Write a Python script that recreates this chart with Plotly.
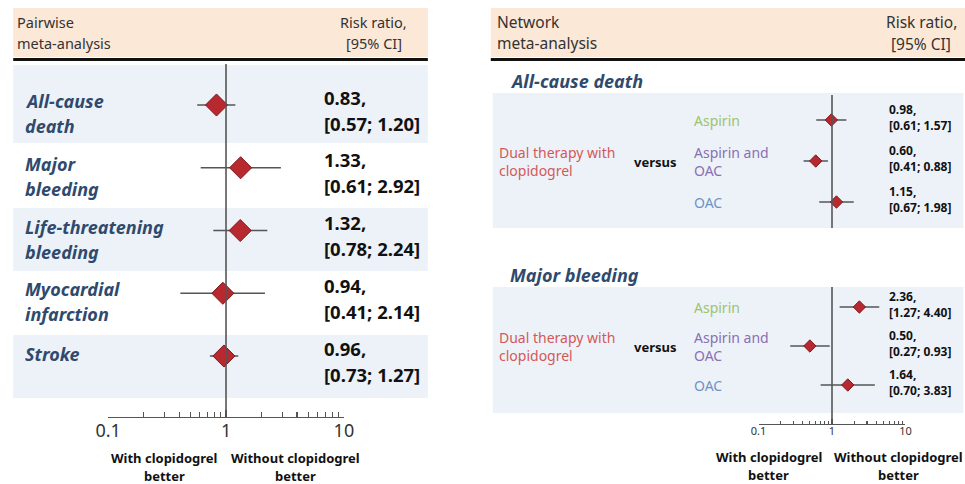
import plotly.graph_objects as go

W, H = 965, 484
# the rendered page shows up slightly squeezed horizontally; positions are pre-stretched about this point
XC, XS = 513.0, 0.977

# ---------------- data ----------------
pair_outcomes = ["All-cause<br>death", "Major<br>bleeding", "Life-threatening<br>bleeding",
                 "Myocardial<br>infarction", "Stroke"]
pair_rr = [0.83, 1.33, 1.32, 0.94, 0.96]
pair_lo = [0.57, 0.61, 0.78, 0.41, 0.73]
pair_hi = [1.20, 2.92, 2.24, 2.14, 1.27]

net_sections = ["All-cause death", "Major bleeding"]
net_reference = "Dual therapy with<br>clopidogrel"
net_comparators = ["Aspirin", "Aspirin and<br>OAC", "OAC"]
net_death_rr = [0.98, 0.60, 1.15]
net_death_lo = [0.61, 0.41, 0.67]
net_death_hi = [1.57, 0.88, 1.98]
net_bleed_rr = [2.36, 0.50, 1.64]
net_bleed_lo = [1.27, 0.27, 0.70]
net_bleed_hi = [4.40, 0.93, 3.83]

major_ticks = [0.1, 1, 10]
major_labels = ["0.1", "1", "10"]
minor_ticks = [0.2, 0.3, 0.4, 0.5, 0.6, 0.7, 0.8, 0.9, 2, 3, 4, 5, 6, 7, 8, 9]
favour_left = "With clopidogrel<br>better"
favour_right = "Without clopidogrel<br>better"

# ---------------- styles ----------------
FONT = "Noto Sans"
NAVY = "#2f4a6d"
PEACH = "#fce8d7"
BAND = "#edf2f9"
LINEC = "#555555"
DIAMOND = "#b8282f"
DIAMOND_EDGE = "#7d1a1f"
REF_RED = "#d45858"
COMP_COLORS = ["#9dc46b", "#8a6fb3", "#6f92c6"]


def fx(p):
    return (XC + (p - XC) / XS) / W


def fy(p):
    return 1 - p / H


fig = go.Figure()
annotations = []
shapes = []


def text(xp, yp, s, size, color="#222", xanchor="left", weight="normal", style="normal"):
    annotations.append(dict(x=fx(xp), y=fy(yp), xref="paper", yref="paper", text=s,
                            showarrow=False, xanchor=xanchor, yanchor="middle", borderpad=0,
                            font=dict(family=FONT, size=size, color=color, weight=weight, style=style)))


def rowtext(xp, yref, idx, shift, s, size, color="#222", xanchor="left", weight="normal",
            style="normal", align="left"):
    annotations.append(dict(x=fx(xp), y=idx, xref="paper", yref=yref, yshift=-shift, text=s,
                            showarrow=False, xanchor=xanchor, yanchor="middle", borderpad=0,
                            align=align,
                            font=dict(family=FONT, size=size, color=color, weight=weight, style=style)))


def multiline(xp, yref, idx, s, first, step, size, **kw):
    lines = s.split("<br>")
    for k, ln in enumerate(lines):
        rowtext(xp, yref, idx, first + k * step, ln, size, **kw)


def rect(x0, y0, x1, y1, color):
    shapes.append(dict(type="rect", xref="paper", yref="paper", x0=fx(x0), x1=fx(x1),
                       y0=fy(y0), y1=fy(y1), fillcolor=color, line=dict(width=0), layer="below"))


def hline(x0, x1, y, width, color="#111"):
    shapes.append(dict(type="line", xref="paper", yref="paper", x0=fx(x0), x1=fx(x1),
                       y0=fy(y), y1=fy(y), line=dict(color=color, width=width)))


def null_line(xref, y0, y1):
    shapes.append(dict(type="line", xref=xref, yref="paper", x0=1, x1=1, y0=fy(y0), y1=fy(y1),
                       line=dict(color=LINEC, width=1.6), layer="above"))


def add_forest(rr, lo, hi, xa, ya, msize, lw):
    xs, ys = [], []
    for i in range(len(rr)):
        xs += [lo[i], hi[i], None]
        ys += [i, i, None]
    fig.add_trace(go.Scatter(x=xs, y=ys, mode="lines", xaxis=xa, yaxis=ya,
                             line=dict(color=LINEC, width=lw), hoverinfo="skip", showlegend=False))
    fig.add_trace(go.Scatter(x=rr, y=list(range(len(rr))), mode="markers", xaxis=xa, yaxis=ya,
                             marker=dict(symbol="diamond", size=msize, color=DIAMOND,
                                         line=dict(color=DIAMOND_EDGE, width=1)),
                             showlegend=False))


def fmt(r, l, h):
    return f"{r:.2f},<br>[{l:.2f}; {h:.2f}]"


# ---------------- left panel: pairwise ----------------
rect(12, 8, 427, 57, PEACH)
hline(12, 427, 59.5, 3)
for y0, y1 in [(65, 143), (208, 271), (335, 398)]:
    rect(12, y0, 427, y1, BAND)
null_line("x", 64, 417)
add_forest(pair_rr, pair_lo, pair_hi, "x", "y", 17, 1.6)

text(15, 22, "Pairwise", 14.5, color="#333")
text(15, 43, "meta-analysis", 14.5, color="#333")
text(373, 22, "Risk ratio,", 14.5, color="#333", xanchor="center")
text(373, 43, "[95% CI]", 14.5, color="#333", xanchor="center")

for i, name in enumerate(pair_outcomes):
    nl = len(name.split("<br>"))
    multiline(23, "y", i, name, -4 if nl > 1 else -2, 25, 18, color=NAVY, weight="bold", style="italic")
    multiline(322, "y", i, fmt(pair_rr[i], pair_lo[i], pair_hi[i]), -8, 26, 18.5, color="#111",
              weight="bold")

for s, xc in [(favour_left, 163), (favour_right, 295)]:
    for k, ln in enumerate(s.split("<br>")):
        text(xc, 458 + 18 * k, ln, 13, color="#111", xanchor="center", weight="bold")

# ---------------- right panel: network ----------------
rect(490, 8, 990, 57, PEACH)
hline(490, 990, 59.5, 3)
rect(492, 93, 963, 228, BAND)
rect(492, 287, 963, 413, BAND)
null_line("x2", 95, 228)
null_line("x2", 287, 424)
add_forest(net_death_rr, net_death_lo, net_death_hi, "x2", "y2", 9.5, 1.4)
add_forest(net_bleed_rr, net_bleed_lo, net_bleed_hi, "x2", "y3", 9.5, 1.4)

text(495, 22, "Network", 15.5, color="#333")
text(495, 43, "meta-analysis", 15.5, color="#333")
text(921, 22, "Risk ratio,", 15.5, color="#333", xanchor="center")
text(921, 44, "[95% CI]", 15.5, color="#333", xanchor="center")

text(508, 81, net_sections[0], 18, color=NAVY, weight="bold", style="italic")
text(508, 275, net_sections[1], 18, color=NAVY, weight="bold", style="italic")

for ya, rr, lo, hi in [("y2", net_death_rr, net_death_lo, net_death_hi),
                       ("y3", net_bleed_rr, net_bleed_lo, net_bleed_hi)]:
    rowtext(497, ya, 1, 0, net_reference, 14, color=REF_RED)
    rowtext(655, ya, 1, 1, "versus", 13, color="#111", xanchor="center", weight="bold")
    for i, comp in enumerate(net_comparators):
        rowtext(692, ya, i, 0, comp, 14, color=COMP_COLORS[i])
        rowtext(888, ya, i, -3, fmt(rr[i], lo[i], hi[i]), 12, color="#111", weight="bold")

for s, xc in [(favour_left, 768), (favour_right, 898)]:
    for k, ln in enumerate(s.split("<br>")):
        text(xc, 457 + 18 * k, ln, 13, color="#111", xanchor="center", weight="bold")


# ---------------- axes ----------------
def log_axis(domain_px, line_px, font_size, major_len, minor_len, standoff):
    return dict(type="log", range=[-1, 1], domain=[fx(domain_px[0]), fx(domain_px[1])],
                anchor="free", position=fy(line_px), showline=True, linecolor=LINEC, linewidth=1.4,
                showgrid=False, zeroline=False, ticks="inside", ticklen=major_len, tickwidth=1.2,
                tickcolor=LINEC, tickmode="array", tickvals=major_ticks, ticktext=major_labels,
                tickfont=dict(family=FONT, size=font_size, color="#333"), ticklabelstandoff=standoff,
                minor=dict(ticks="inside", tickvals=minor_ticks, ticklen=minor_len,
                           tickcolor=LINEC, tickwidth=1.1, showgrid=False),
                fixedrange=True)


def row_axis(n, top_center, bottom_center):
    step = (bottom_center - top_center) / (n - 1)
    return dict(range=[n - 0.5, -0.5], domain=[fy(bottom_center + step / 2), fy(top_center - step / 2)],
                visible=False, anchor="free", position=0, fixedrange=True)


fig.update_layout(
    width=W, height=H, margin=dict(l=0, r=0, t=0, b=0), autosize=False,
    paper_bgcolor="white", plot_bgcolor="rgba(0,0,0,0)",
    xaxis=log_axis((107, 343), 417, 18, 7, 5, -3),
    xaxis2=log_axis((758, 905), 424, 11, 5, 3.5, -4),
    yaxis=row_axis(5, 105, 356),
    yaxis2=row_axis(3, 120, 202),
    yaxis3=row_axis(3, 307, 385),
    shapes=shapes, annotations=annotations, showlegend=False,
)

fig.write_html("out.html", config={"displayModeBar": False, "staticPlot": True, "responsive": False},
               post_script="document.body.style.margin='0px';document.body.style.overflow='hidden';")
